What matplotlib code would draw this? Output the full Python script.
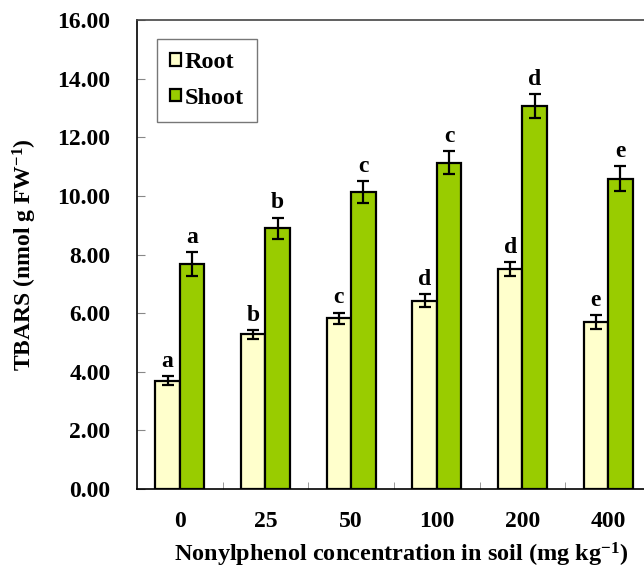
import matplotlib
matplotlib.use('Agg')
import matplotlib.pyplot as plt
import numpy as np

# TBARS content in root and shoot vs nonylphenol dose
doses = ['0', '25', '50', '100', '200', '400']
root = [3.70, 5.28, 5.83, 6.43, 7.50, 5.69]
root_err = [0.14, 0.15, 0.19, 0.21, 0.24, 0.23]
shoot = [7.68, 8.90, 10.13, 11.13, 13.07, 10.59]
shoot_err = [0.40, 0.36, 0.37, 0.40, 0.40, 0.44]
root_letters = ['a', 'b', 'c', 'd', 'd', 'e']
shoot_letters = ['a', 'b', 'c', 'c', 'd', 'e']

plt.rcParams['font.family'] = 'Liberation Serif'
plt.rcParams['font.weight'] = 'bold'
plt.rcParams['font.size'] = 17
plt.rcParams['mathtext.fontset'] = 'custom'
plt.rcParams['mathtext.rm'] = 'Liberation Serif:bold'
plt.rcParams['mathtext.bf'] = 'Liberation Serif:bold'
plt.rcParams['mathtext.default'] = 'rm'

fig = plt.figure(figsize=(6.44, 5.70), dpi=100)
ax = fig.add_axes([0.2127, 0.1421, 0.798, 0.8228])

x = np.arange(len(doses))
w = 0.286
ekw = dict(ecolor='black', elinewidth=1.6, capsize=4, capthick=1.6)
b1 = ax.bar(x - w / 2, root, w, yerr=root_err, color='#FFFFCC',
            edgecolor='black', linewidth=1.6, error_kw=ekw, label='Root', zorder=2)
b2 = ax.bar(x + w / 2, shoot, w, yerr=shoot_err, color='#99CC00',
            edgecolor='black', linewidth=1.6, error_kw=ekw, label='Shoot', zorder=2)

for xi, v, e, t in zip(x - w / 2, root, root_err, root_letters):
    ax.annotate(t, (xi, v + e), xytext=(0, 3), textcoords='offset points',
                ha='center', va='bottom', fontsize=17, fontweight='bold')
for xi, v, e, t in zip(x + w / 2, shoot, shoot_err, shoot_letters):
    ax.annotate(t, (xi, v + e), xytext=(0, 3), textcoords='offset points',
                ha='center', va='bottom', fontsize=17, fontweight='bold')

ax.set_xlim(-0.5, len(doses) - 0.5)
ax.set_ylim(0, 16)
ax.set_yticks(np.arange(0, 16.1, 2))
ax.set_yticklabels(['%.2f' % v for v in np.arange(0, 16.1, 2)])
ax.set_xticks(x)
ax.set_xticklabels(doses)
ax.set_xticks(np.arange(0.5, len(doses) - 0.5, 1), minor=True)
ax.tick_params(axis='x', which='major', length=0, pad=16, labelsize=17)
ax.tick_params(axis='x', which='minor', direction='in', length=5, color='#888888')
ax.tick_params(axis='y', direction='in', length=6, color='#888888', pad=19, labelsize=17)
for lab in ax.get_xticklabels() + ax.get_yticklabels():
    lab.set_fontweight('bold')

for s in ax.spines.values():
    s.set_linewidth(1.2)
ax.spines['top'].set_color('#444444')

ax.set_ylabel(r'TBARS (nmol g FW$^{-1}$)', fontsize=17, fontweight='bold')
ax.yaxis.set_label_coords(-0.19, 0.5)
ax.set_xlabel(r'Nonylphenol concentration in soil (mg kg$^{-1}$)',
              fontsize=17.5, fontweight='bold')
ax.xaxis.set_label_coords(0.515, -0.111)

leg = ax.legend(loc='upper left', bbox_to_anchor=(0.039, 0.96), frameon=True,
                fancybox=False, edgecolor='#555555', handlelength=0.42, handleheight=0.42,
                handletextpad=0.15, labelspacing=0.6, borderpad=0.55, borderaxespad=0,
                prop={'weight': 'bold', 'size': 17.5})
leg.get_frame().set_linewidth(1.0)

fig.savefig('out.png', dpi=100)
